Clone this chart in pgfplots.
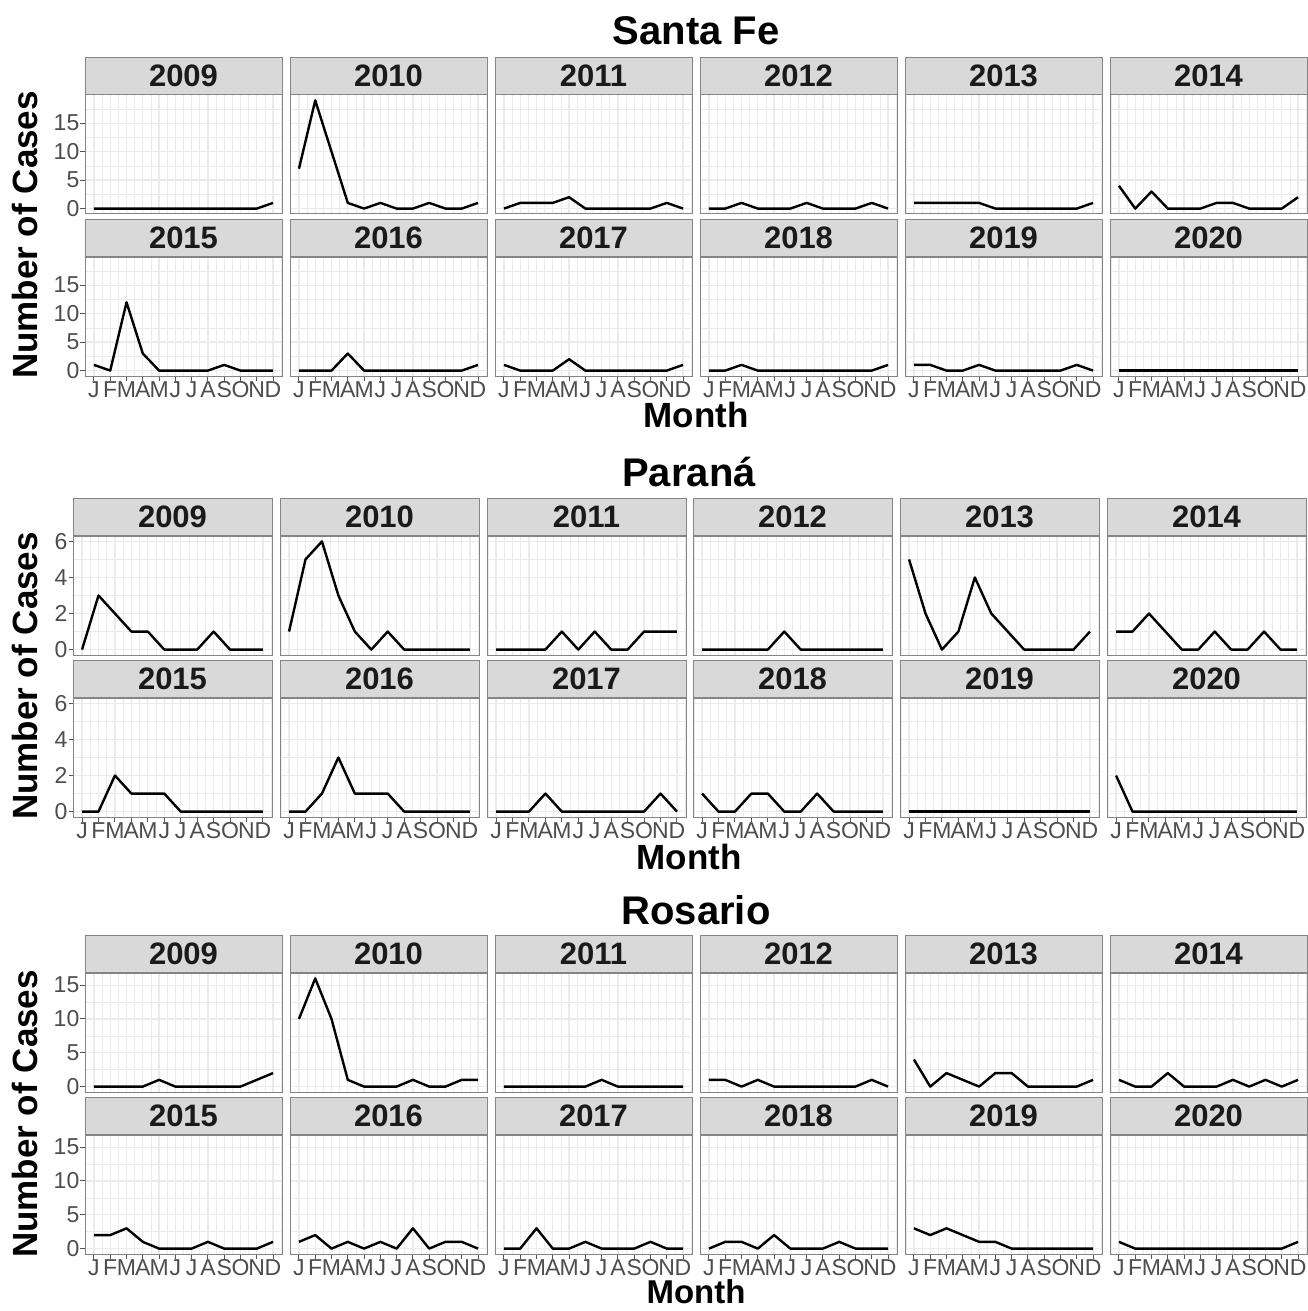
\documentclass[border=0pt]{standalone}
\usepackage{fontspec}
\setmainfont{Liberation Sans}
\usepackage{pgfplots}
\usepackage{pgfplotstable}
\pgfplotsset{compat=1.18}

\definecolor{grid92}{HTML}{EBEBEB}
\definecolor{stripfill}{HTML}{D9D9D9}
\definecolor{bordercol}{HTML}{858585}
\definecolor{tickcol}{HTML}{555555}
\definecolor{ticklab}{HTML}{4D4D4D}
\definecolor{striptext}{HTML}{1A1A1A}

% Santa Fe: rows = months, columns = years
\pgfplotstableread{
m  Y2009 Y2010 Y2011 Y2012 Y2013 Y2014 Y2015 Y2016 Y2017 Y2018 Y2019 Y2020
1  0 7  0 0 1 4 1  0 1 0 1 0
2  0 19 1 0 1 0 0  0 0 0 1 0
3  0 10 1 1 1 3 12 0 0 1 0 0
4  0 1  1 0 1 0 3  3 0 0 0 0
5  0 0  2 0 1 0 0  0 2 0 1 0
6  0 1  0 0 0 0 0  0 0 0 0 0
7  0 0  0 1 0 1 0  0 0 0 0 0
8  0 0  0 0 0 1 0  0 0 0 0 0
9  0 1  0 0 0 0 1  0 0 0 0 0
10 0 0  0 0 0 0 0  0 0 0 0 0
11 0 0  1 1 0 0 0  0 0 0 1 0
12 1 1  0 0 1 2 0  1 1 1 0 0
}\sftab

% Parana
\pgfplotstableread{
m  Y2009 Y2010 Y2011 Y2012 Y2013 Y2014 Y2015 Y2016 Y2017 Y2018 Y2019 Y2020
1  0 1 0 0 5 1 0 0 0 1 0 2
2  3 5 0 0 2 1 0 0 0 0 0 0
3  2 6 0 0 0 2 2 1 0 0 0 0
4  1 3 0 0 1 1 1 3 1 1 0 0
5  1 1 1 0 4 0 1 1 0 1 0 0
6  0 0 0 1 2 0 1 1 0 0 0 0
7  0 1 1 0 1 1 0 1 0 0 0 0
8  0 0 0 0 0 0 0 0 0 1 0 0
9  1 0 0 0 0 0 0 0 0 0 0 0
10 0 0 1 0 0 1 0 0 0 0 0 0
11 0 0 1 0 0 0 0 0 1 0 0 0
12 0 0 1 0 1 0 0 0 0 0 0 0
}\prtab

% Rosario
\pgfplotstableread{
m  Y2009 Y2010 Y2011 Y2012 Y2013 Y2014 Y2015 Y2016 Y2017 Y2018 Y2019 Y2020
1  0 10 0 1 4 1 2 1 0 0 3 1
2  0 16 0 1 0 0 2 2 0 1 2 0
3  0 10 0 0 2 0 3 0 3 1 3 0
4  0 1  0 1 1 2 1 1 0 0 2 0
5  1 0  0 0 0 0 0 0 0 2 1 0
6  0 0  0 0 2 0 0 1 1 0 1 0
7  0 0  1 0 2 0 0 0 0 0 0 0
8  0 1  0 0 0 1 1 3 0 0 0 0
9  0 0  0 0 0 0 0 0 0 1 0 0
10 0 0  0 0 0 1 0 1 1 0 0 0
11 1 1  0 1 0 0 0 1 0 0 0 0
12 2 1  0 0 1 1 1 0 0 0 0 1
}\rotab

\pgfplotsset{
  panel/.style={
    scale only axis, height=119pt,
    xmin=0.45, xmax=12.55,
    xtick={1,...,12}, minor xtick={0.5,1.5,...,12.5},
    grid=both,
    major grid style={draw=grid92, line width=1.3pt},
    minor grid style={draw=grid92, line width=0.65pt},
    axis line style={draw=bordercol, line width=1pt},
    tick pos=left, tick align=outside,
    major tick length=4.5pt, minor tick length=0pt,
    tick style={draw=tickcol, line width=1pt},
    xticklabel={}, yticklabel={},
    ticklabel style={font=\fontsize{23}{23}\selectfont, text=ticklab, inner sep=1pt},
    /pgf/number format/assume math mode=true,
    every axis title/.style={at={(0.5,1)}, anchor=south, fill=stripfill,
      draw=bordercol, line width=1pt, minimum height=37pt, inner sep=0pt,
      font=\bfseries\fontsize{31}{31}\selectfont, text=striptext},
  },
  sf/.style={width=197pt, ymin=-0.95, ymax=19.95, ytick={0,5,10,15},
    minor ytick={2.5,7.5,12.5,17.5}, every axis title/.append style={minimum width=197pt}},
  ro/.style={width=197pt, ymin=-0.8, ymax=16.8, ytick={0,5,10,15},
    minor ytick={2.5,7.5,12.5}, every axis title/.append style={minimum width=197pt}},
  pr/.style={width=199pt, ymin=-0.3, ymax=6.3, ytick={0,2,4,6},
    minor ytick={1,3,5}, every axis title/.append style={minimum width=199pt}},
  c1/.style={yticklabel={\axisdefaultticklabel}},
  cn/.style={ymajorticks=false},
  r1/.style={xmajorticks=false},
  r2/.style={xticklabels={J,F,M,A,M,J,J,A,S,O,N,D}},
}

\newcommand\pnl[6]{%
  \begin{axis}[panel,#1,at={(#2pt,-#3pt)},anchor=north west,title={#6},#4]
    \addplot[black, line width=2.4pt, line join=round] table[x=m, y=Y#6] {#5};
  \end{axis}}

\begin{document}
\begin{tikzpicture}
\useasboundingbox (0,0) rectangle (1308pt,-1311pt);

% ---------------- Santa Fe ----------------
\pnl{sf}{85}{95}{c1,r1}{\sftab}{2009}
\pnl{sf}{290}{95}{cn,r1}{\sftab}{2010}
\pnl{sf}{495}{95}{cn,r1}{\sftab}{2011}
\pnl{sf}{700}{95}{cn,r1}{\sftab}{2012}
\pnl{sf}{905}{95}{cn,r1}{\sftab}{2013}
\pnl{sf}{1110}{95}{cn,r1}{\sftab}{2014}
\pnl{sf}{85}{257}{c1,r2}{\sftab}{2015}
\pnl{sf}{290}{257}{cn,r2}{\sftab}{2016}
\pnl{sf}{495}{257}{cn,r2}{\sftab}{2017}
\pnl{sf}{700}{257}{cn,r2}{\sftab}{2018}
\pnl{sf}{905}{257}{cn,r2}{\sftab}{2019}
\pnl{sf}{1110}{257}{cn,r2}{\sftab}{2020}

% ---------------- Parana ----------------
\pnl{pr}{73}{536}{c1,r1}{\prtab}{2009}
\pnl{pr}{280}{536}{cn,r1}{\prtab}{2010}
\pnl{pr}{487}{536}{cn,r1}{\prtab}{2011}
\pnl{pr}{693}{536}{cn,r1}{\prtab}{2012}
\pnl{pr}{900}{536}{cn,r1}{\prtab}{2013}
\pnl{pr}{1107}{536}{cn,r1}{\prtab}{2014}
\pnl{pr}{73}{698}{c1,r2}{\prtab}{2015}
\pnl{pr}{280}{698}{cn,r2}{\prtab}{2016}
\pnl{pr}{487}{698}{cn,r2}{\prtab}{2017}
\pnl{pr}{693}{698}{cn,r2}{\prtab}{2018}
\pnl{pr}{900}{698}{cn,r2}{\prtab}{2019}
\pnl{pr}{1107}{698}{cn,r2}{\prtab}{2020}

% ---------------- Rosario ----------------
\pnl{ro}{85}{973}{c1,r1}{\rotab}{2009}
\pnl{ro}{290}{973}{cn,r1}{\rotab}{2010}
\pnl{ro}{495}{973}{cn,r1}{\rotab}{2011}
\pnl{ro}{700}{973}{cn,r1}{\rotab}{2012}
\pnl{ro}{905}{973}{cn,r1}{\rotab}{2013}
\pnl{ro}{1110}{973}{cn,r1}{\rotab}{2014}
\pnl{ro}{85}{1135}{c1,r2}{\rotab}{2015}
\pnl{ro}{290}{1135}{cn,r2}{\rotab}{2016}
\pnl{ro}{495}{1135}{cn,r2}{\rotab}{2017}
\pnl{ro}{700}{1135}{cn,r2}{\rotab}{2018}
\pnl{ro}{905}{1135}{cn,r2}{\rotab}{2019}
\pnl{ro}{1110}{1135}{cn,r2}{\rotab}{2020}

% ---------------- titles and axis labels ----------------
\node[anchor=base, font=\bfseries\fontsize{40}{40}\selectfont] at (696pt,-44.5pt) {Santa Fe};
\node[anchor=base, font=\bfseries\fontsize{40}{40}\selectfont] at (689pt,-486pt) {Paraná};
\node[anchor=base, font=\bfseries\fontsize{40}{40}\selectfont] at (696pt,-924pt) {Rosario};

\node[anchor=base, font=\bfseries\fontsize{35}{35}\selectfont] at (696pt,-427.5pt) {Month};
\node[anchor=base, font=\bfseries\fontsize{35}{35}\selectfont] at (689pt,-869.5pt) {Month};
\node[anchor=base, inner sep=0pt, font=\bfseries\fontsize{33}{33}\selectfont] at (696pt,-1303.5pt) {Month};

\node[rotate=90, font=\bfseries\fontsize{35}{35}\selectfont] at (25pt,-235pt) {Number of Cases};
\node[rotate=90, font=\bfseries\fontsize{35}{35}\selectfont] at (25pt,-676pt) {Number of Cases};
\node[rotate=90, font=\bfseries\fontsize{35}{35}\selectfont] at (25pt,-1114pt) {Number of Cases};
\end{tikzpicture}
\end{document}
